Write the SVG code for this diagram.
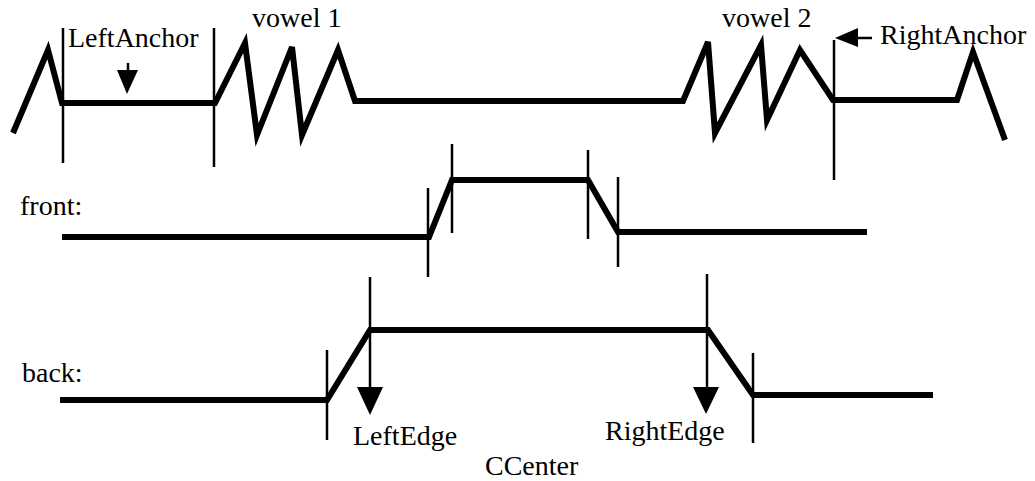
<svg xmlns="http://www.w3.org/2000/svg" width="1035" height="481" viewBox="0 0 1035 481">
<style>
.thick{fill:none;stroke:#000;stroke-width:6;stroke-linejoin:miter;stroke-linecap:butt}
.thin{fill:none;stroke:#000;stroke-width:2.5}
.lbl{font-family:"Liberation Serif","Times New Roman",serif;font-size:28px;fill:#000}
.head{fill:#000;stroke:none}
</style>
<rect width="1035" height="481" fill="#fff"/>
<g id="waveform">
<polyline class="thick" points="13,133 48,50 62,103 215,103 245,43 257,135 292,47 302,135 338,50 355,101 683,101 708,42 715,133 761,45 767,120 800,50 833,100 957,100 973,52 1005,140"/>
</g>
<g id="front-track">
<polyline class="thick" points="62,237 429,237 452,180 588,180 618,232 867,232"/>
</g>
<g id="back-track">
<polyline class="thick" points="60,400 327,400 370,330 708,330 753,395 933,395"/>
</g>
<g id="ticks">
<line class="thin" x1="63" y1="28" x2="63" y2="163"/>
<line class="thin" x1="214" y1="28" x2="214" y2="167"/>
<line class="thin" x1="834" y1="40" x2="834" y2="180"/>
<line class="thin" x1="428" y1="188" x2="428" y2="277"/>
<line class="thin" x1="452" y1="144" x2="452" y2="233"/>
<line class="thin" x1="588" y1="150" x2="588" y2="239"/>
<line class="thin" x1="618" y1="177" x2="618" y2="267"/>
<line class="thin" x1="327" y1="350" x2="327" y2="440"/>
<line class="thin" x1="753" y1="353" x2="753" y2="443"/>
</g>
<g id="connectors">
<line class="thin" x1="128" y1="63" x2="128" y2="72"/>
<polygon class="head" points="117,70 138,70 127,94"/>
<line class="thin" x1="856" y1="38" x2="872" y2="38"/>
<polygon class="head" points="835,38 858,28 858,47"/>
<line class="thin" x1="370" y1="277" x2="370" y2="389"/>
<polygon class="head" points="357,387 383,387 370,415"/>
<line class="thin" x1="707" y1="274" x2="707" y2="389"/>
<polygon class="head" points="693,387 719,387 706,414"/>
</g>
<g id="labels">
<text class="lbl" x="68" y="47">LeftAnchor</text>
<text class="lbl" x="252" y="27">vowel 1</text>
<text class="lbl" x="722" y="27">vowel 2</text>
<text class="lbl" x="880" y="44">RightAnchor</text>
<text class="lbl" x="20" y="215">front:</text>
<text class="lbl" x="22" y="382">back:</text>
<text class="lbl" x="353" y="445">LeftEdge</text>
<text class="lbl" x="605" y="440">RightEdge</text>
<text class="lbl" x="485" y="475">CCenter</text>
</g>
</svg>
